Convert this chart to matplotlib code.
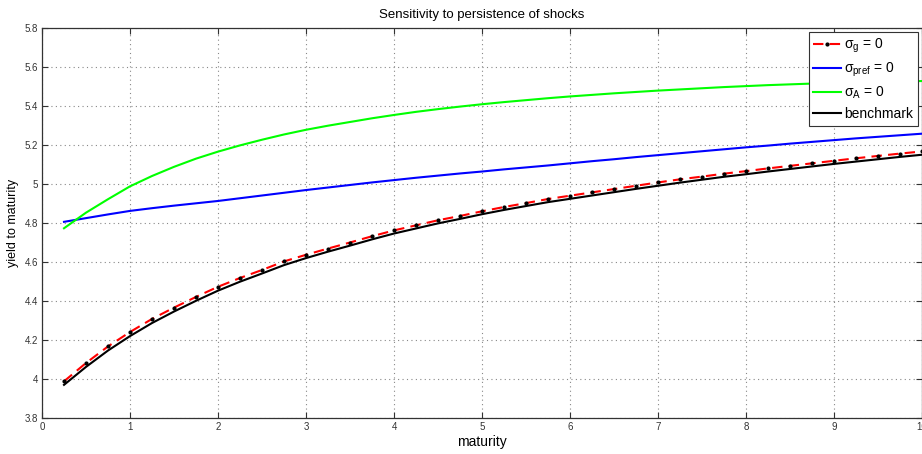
import numpy as np
import matplotlib
matplotlib.use("Agg")
import matplotlib.pyplot as plt

plt.rcParams['font.family'] = ['Liberation Sans', 'DejaVu Sans']
plt.rcParams['mathtext.fontset'] = 'custom'
plt.rcParams['mathtext.rm'] = 'Liberation Sans'
plt.rcParams['mathtext.it'] = 'Liberation Sans'
plt.rcParams['mathtext.sf'] = 'Liberation Sans'

maturity = [0.25, 0.5, 0.75, 1.0, 1.25, 1.5, 1.75, 2.0, 2.25, 2.5, 2.75, 3.0,
            3.25, 3.5, 3.75, 4.0, 4.25, 4.5, 4.75, 5.0, 5.25, 5.5, 5.75, 6.0,
            6.25, 6.5, 6.75, 7.0, 7.25, 7.5, 7.75, 8.0, 8.25, 8.5, 8.75, 9.0,
            9.25, 9.5, 9.75, 10.0]

sigma_g0 = [3.988, 4.082, 4.167, 4.241, 4.308, 4.366, 4.421, 4.473, 4.518, 4.559,
            4.603, 4.637, 4.669, 4.700, 4.732, 4.762, 4.788, 4.814, 4.836, 4.860,
            4.882, 4.902, 4.923, 4.940, 4.957, 4.974, 4.991, 5.008, 5.024, 5.038,
            5.053, 5.066, 5.080, 5.093, 5.106, 5.119, 5.132, 5.144, 5.156, 5.167]

sigma_pref0 = [4.806, 4.825, 4.844, 4.862, 4.876, 4.889, 4.901, 4.913, 4.927, 4.941,
               4.955, 4.969, 4.982, 4.995, 5.008, 5.020, 5.032, 5.043, 5.054, 5.064,
               5.075, 5.085, 5.095, 5.106, 5.117, 5.127, 5.138, 5.148, 5.158, 5.168,
               5.178, 5.188, 5.197, 5.207, 5.216, 5.225, 5.234, 5.242, 5.250, 5.258]

sigma_A0 = [4.773, 4.853, 4.922, 4.988, 5.041, 5.088, 5.130, 5.166, 5.198, 5.227,
            5.254, 5.278, 5.299, 5.318, 5.337, 5.354, 5.370, 5.384, 5.397, 5.409,
            5.420, 5.430, 5.440, 5.449, 5.457, 5.465, 5.472, 5.479, 5.485, 5.491,
            5.497, 5.502, 5.507, 5.511, 5.515, 5.518, 5.521, 5.524, 5.526, 5.528]

benchmark = [3.970, 4.062, 4.146, 4.220, 4.287, 4.346, 4.401, 4.453, 4.499, 4.541,
             4.584, 4.620, 4.653, 4.684, 4.716, 4.746, 4.772, 4.798, 4.821, 4.845,
             4.867, 4.887, 4.907, 4.924, 4.941, 4.958, 4.975, 4.991, 5.007, 5.022,
             5.037, 5.050, 5.064, 5.077, 5.090, 5.103, 5.115, 5.127, 5.139, 5.150]

labels = [r'$\sigma_g$ = 0', r'$\sigma_{pref}$ = 0', r'$\sigma_A$ = 0', 'benchmark']
xticks = list(range(0, 11))
yticks = [3.8, 4.0, 4.2, 4.4, 4.6, 4.8, 5.0, 5.2, 5.4, 5.6, 5.8]
yticklabels = ['3.8', '4', '4.2', '4.4', '4.6', '4.8', '5', '5.2', '5.4', '5.6', '5.8']

fig = plt.figure(figsize=(9.22, 4.54), dpi=100)
ax = fig.add_axes([42/922, 1-418/454, 880/922, 390/454])

ax.plot(maturity, sigma_g0, color='red', linestyle=(0, (5, 3)), linewidth=1.5,
        marker='o', markersize=2.0, markerfacecolor='black', markeredgecolor='black',
        label=labels[0], zorder=4)
ax.plot(maturity, sigma_pref0, color='#0000ff', linewidth=1.5, label=labels[1], zorder=3)
ax.plot(maturity, sigma_A0, color='#00ff00', linewidth=1.5, label=labels[2], zorder=3)
ax.plot(maturity, benchmark, color='black', linewidth=1.5, label=labels[3], zorder=3)

ax.set_xlim(0, 10)
ax.set_ylim(3.8, 5.8)
ax.set_xticks(xticks)
ax.set_yticks(yticks)
ax.set_yticklabels(yticklabels)
ax.tick_params(axis='both', direction='in', length=4, labelsize=7, labelcolor='#333333',
               top=True, right=True, color='#333333', pad=3)
ax.grid(True, linestyle=(0, (1, 3)), color='#888888', linewidth=0.8)
for s in ax.spines.values():
    s.set_color('#333333')
    s.set_linewidth(0.9)

ax.set_title('Sensitivity to persistence of shocks', fontsize=9.5, pad=7)
ax.set_xlabel('maturity', fontsize=10, labelpad=2)
ax.set_ylabel('yield to maturity', fontsize=9, labelpad=4)

leg = ax.legend(loc='upper right', fontsize=10, numpoints=1, fancybox=False,
                framealpha=1, edgecolor='#333333', handlelength=2.0,
                handletextpad=0.2, borderpad=0.35, labelspacing=0.4,
                borderaxespad=0.3)
leg.get_frame().set_linewidth(0.8)

fig.savefig('out.png', dpi=100)
